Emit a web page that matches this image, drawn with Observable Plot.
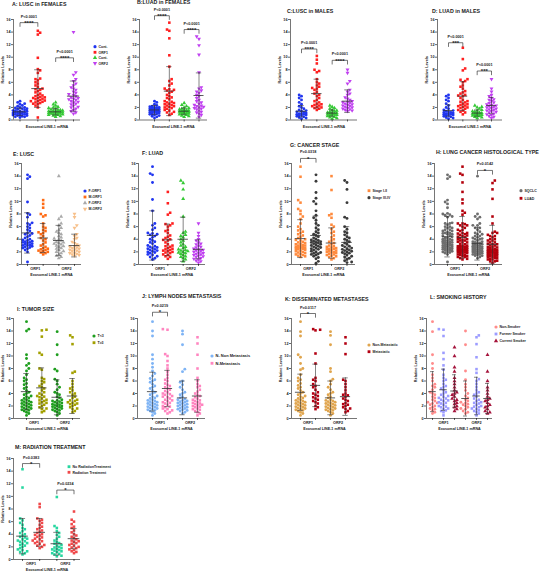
<!DOCTYPE html>
<html><head><meta charset="utf-8">
<script src="https://cdn.jsdelivr.net/npm/d3@7"></script>
<script src="https://cdn.jsdelivr.net/npm/@observablehq/plot@0.6"></script>
<style>
html,body{margin:0;padding:0;background:#fff}
#root{position:relative;width:546px;height:574px;overflow:hidden;background:#fff}
#root svg{position:absolute;overflow:visible}
</style></head><body><div id="root"></div>
<script>
// ---------- DATA (relative levels) ----------
// A: LUSC females
const aCont1 = [3.0,2.8,2.6,2.5,2.3,2.2,2.0,2.0,1.9,1.8,1.8,1.7,1.6,1.5,1.5,1.4,1.4,1.3,1.3,1.2,1.2,1.1,1.1,1.0,1.0,1.0,0.9,0.9,0.8,0.8,0.7,0.7,0.6,0.5,0.5,0.4];
const aOrf1 = [14.2,13.9,13.6,9.9,8.1,7.9,7.5,6.6,6.5,6.3,6.0,5.8,5.5,5.3,5.0,4.9,4.8,4.6,4.4,4.2,4.0,3.9,3.8,3.7,3.6,3.5,3.5,3.4,3.3,3.2,3.1,3.0,3.0,2.9,2.8,2.7,2.6,2.5,2.3,2.0,0.4];
const aCont2 = [2.8,2.5,2.3,2.1,2.0,1.9,1.8,1.7,1.6,1.6,1.5,1.5,1.4,1.4,1.3,1.3,1.3,1.2,1.2,1.2,1.1,1.1,1.0,1.0,1.0,0.9,0.9,0.8,0.8,0.7,0.6,0.5];
const aOrf2 = [14.0,7.6,7.2,6.5,6.2,5.8,5.5,5.2,5.0,4.8,4.5,4.3,4.1,4.0,3.8,3.6,3.5,3.4,3.3,3.2,3.0,2.9,2.8,2.6,2.5,2.3,2.1,2.0,1.8,1.6,1.4,1.2,1.0];
const aMean = [1.3,5.0,1.3,3.8], aSD = [0.6,3.0,0.5,2.4];
// B: LUAD females
const bCont1 = [3.0,2.8,2.5,2.3,2.2,2.1,2.0,2.0,1.9,1.9,1.8,1.8,1.7,1.7,1.6,1.6,1.5,1.5,1.4,1.4,1.3,1.3,1.2,1.2,1.1,1.0,1.0,0.9,0.8,0.7,0.6,0.5,0.3];
const bOrf1 = [15.5,14.4,14.2,13.0,10.3,8.5,6.5,6.2,5.8,5.5,5.0,4.9,4.8,4.7,4.5,4.3,4.0,3.8,3.6,3.5,3.3,3.0,2.9,2.8,2.7,2.6,2.5,2.4,2.3,2.2,2.1,2.0,1.9,1.8,1.6,1.5,1.3,1.2,1.0,0.8];
const bCont2 = [2.7,2.4,2.2,2.0,1.9,1.8,1.7,1.6,1.6,1.5,1.5,1.4,1.4,1.4,1.3,1.3,1.2,1.2,1.1,1.1,1.0,1.0,0.9,0.8,0.7,0.6,0.5];
const bOrf2 = [13.3,12.9,11.9,10.4,7.6,5.2,5.0,4.7,4.5,4.3,4.0,3.8,3.5,3.2,3.0,2.8,2.6,2.4,2.3,2.2,2.1,2.0,1.9,1.8,1.7,1.5,1.3,1.2,1.0,0.8,0.5];
const bMean = [1.6,4.6,1.4,3.9], bSD = [0.7,3.9,0.5,3.6];
// C: LUSC males
const cCont1 = [4.0,3.8,3.5,3.2,2.8,2.5,2.2,2.0,1.8,1.6,1.5,1.4,1.3,1.2,1.1,1.0,1.0,0.9,0.9,0.8,0.8,0.7,0.6,0.5,0.4,0.3,0.2];
const cOrf1 = [10.2,9.6,9.0,8.0,7.8,7.6,6.5,6.0,5.8,5.5,5.3,5.1,5.0,4.8,4.5,4.2,4.0,3.8,3.5,3.2,3.0,2.8,2.6,2.5,2.4,2.3,2.2,2.1,2.0,1.9,1.8,1.6];
const cCont2 = [2.3,2.1,1.9,1.8,1.6,1.5,1.4,1.3,1.2,1.2,1.1,1.1,1.0,1.0,0.9,0.9,0.8,0.8,0.7,0.6,0.5,0.4,0.3,0.2];
const cOrf2 = [8.0,7.5,6.2,5.8,4.8,4.5,4.2,4.0,3.6,3.4,3.2,3.0,2.9,2.8,2.7,2.6,2.5,2.4,2.3,2.2,2.1,2.0,1.9,1.8,1.7,1.6,1.5,1.4];
const cMean = [1.4,4.2,1.1,3.0], cSD = [0.9,2.3,0.5,1.8];
// D: LUAD males
const dCont1 = [4.0,3.8,3.5,3.2,3.0,2.6,2.3,2.0,1.8,1.6,1.5,1.4,1.3,1.2,1.2,1.1,1.0,1.0,0.9,0.9,0.8,0.8,0.7,0.6,0.5,0.4,0.3,0.2];
const dOrf1 = [11.5,9.7,8.2,7.9,6.5,6.4,6.2,6.0,5.5,5.3,5.0,4.6,4.4,4.2,4.0,3.9,3.8,3.5,3.2,3.0,2.9,2.8,2.6,2.5,2.4,2.3,2.2,2.1,2.0,1.9,1.8,1.6,1.5,1.3,1.2,0.9];
const dCont2 = [2.3,2.1,2.0,1.8,1.6,1.5,1.4,1.3,1.2,1.1,1.1,1.0,1.0,0.9,0.9,0.8,0.8,0.7,0.7,0.6,0.5,0.4,0.3];
const dOrf2 = [6.5,5.0,4.5,4.0,3.8,3.5,3.3,3.2,3.0,2.8,2.7,2.5,2.4,2.3,2.2,2.1,2.0,1.9,1.8,1.7,1.6,1.5,1.4,1.3,1.2,1.0,0.9,0.8,0.6,0.5,0.3];
const dMean = [1.5,3.8,1.1,2.3], dSD = [0.9,2.3,0.5,1.3];
// E, F (sex split) and H (histology) re-use the patient values above
const eMean = [5.0,4.2,3.8,3.0], eSD = [3.2,2.3,2.4,1.8];
const fMean = [4.6,3.9,4.0,2.4], fSD = [3.9,2.5,3.5,1.5];
const hMean = [4.4,4.3,3.3,3.2], hSD = [3.2,3.3,2.6,3.0];
// G: cancer stage
const gOrf1I = [15.5,13.9,10.2,9.8,8.8,8.5,8.0,7.6,7.2,6.5,6.0,5.6,5.4,5.2,5.0,4.8,4.6,4.4,4.2,4.0,3.9,3.8,3.6,3.5,3.4,3.3,3.2,3.1,3.0,3.0,2.9,2.8,2.8,2.7,2.6,2.6,2.5,2.5,2.4,2.3,2.2,2.1,2.0,1.9,1.8,1.7,1.6,1.5,1.4,1.3,1.2];
const gOrf1III = [14.2,13.2,11.4,10.5,10.0,9.6,8.5,7.8,7.4,7.0,6.5,6.2,5.8,5.5,5.2,5.0,4.8,4.6,4.4,4.2,4.0,3.9,3.8,3.7,3.6,3.5,3.5,3.4,3.3,3.2,3.1,3.0,2.9,2.8,2.7,2.6,2.5,2.4,2.3,2.1,2.0,1.9,1.8,1.7,1.6,1.5,1.3,1.1,0.9,0.5,0.2];
const gOrf2I = [14.0,11.8,8.0,7.8,7.4,6.3,6.0,5.6,5.2,5.0,4.6,4.3,4.0,3.8,3.6,3.4,3.2,3.0,2.9,2.8,2.7,2.6,2.5,2.5,2.4,2.3,2.2,2.1,2.0,2.0,1.9,1.8,1.7,1.6,1.5,1.4,1.3,1.2,1.0,0.8];
const gOrf2III = [13.3,13.0,11.9,9.8,7.5,7.3,6.0,5.6,5.2,5.0,4.7,4.4,4.2,4.0,3.8,3.6,3.4,3.2,3.0,2.9,2.8,2.6,2.5,2.4,2.3,2.2,2.1,2.0,1.9,1.8,1.7,1.5,1.3,1.2,1.0,0.8,0.6,0.4,0.3];
const gMean = [4.1,4.6,3.4,3.5], gSD = [3.0,3.1,2.4,2.5];
// I: tumor size
const iOrf1S = [15.5,14.3,14.0,10.2,9.6,8.8,8.5,8.0,7.6,7.0,6.5,6.2,6.0,5.6,5.4,5.0,4.8,4.5,4.2,4.0,3.8,3.6,3.5,3.3,3.2,3.0,2.9,2.8,2.7,2.6,2.5,2.4,2.3,2.2,2.1,2.0,1.9,1.8,1.7,1.6,1.5,1.4,1.3,1.2,1.0,0.8,0.5];
const iOrf1L = [14.2,14.1,13.1,10.5,10.2,8.0,7.8,6.5,6.3,6.0,5.8,5.5,5.2,5.0,4.8,4.5,4.2,4.0,3.8,3.6,3.5,3.4,3.2,3.0,2.9,2.8,2.6,2.5,2.4,2.2,2.0,1.8,1.6,1.5,1.2,1.0];
const iOrf2S = [13.9,11.8,10.2,7.9,7.6,6.3,6.0,5.5,5.0,4.6,4.2,4.0,3.8,3.5,3.3,3.0,2.9,2.8,2.7,2.6,2.5,2.4,2.3,2.2,2.1,2.0,2.0,1.9,1.8,1.7,1.6,1.5,1.4,1.3,1.2,1.0,0.8,0.5];
const iOrf2L = [13.3,13.0,11.9,7.5,7.3,6.0,5.5,5.0,4.8,4.5,4.2,4.0,3.8,3.5,3.3,3.0,2.9,2.8,2.6,2.5,2.4,2.3,2.2,2.0,1.8,1.6,1.5,1.2,1.0];
const iMean = [4.3,4.9,3.4,3.6], iSD = [2.9,3.2,2.8,2.8];
// J: lymph nodes
const jOrf1N = [15.5,14.0,13.2,10.2,9.5,8.8,8.2,7.6,7.2,6.8,6.4,6.2,6.0,5.8,5.5,5.2,5.0,4.8,4.5,4.2,4.0,3.8,3.6,3.5,3.3,3.2,3.0,2.9,2.8,2.7,2.6,2.5,2.4,2.3,2.2,2.1,2.0,1.9,1.8,1.7,1.6,1.5,1.4,1.3,1.2,1.0,0.8,0.5];
const jOrf1M = [14.3,14.2,10.3,10.0,9.2,8.5,8.0,7.5,7.0,6.5,6.2,6.0,5.6,5.4,5.2,5.0,4.8,4.6,4.4,4.2,4.0,3.9,3.8,3.6,3.5,3.4,3.2,3.0,2.9,2.8,2.6,2.5,2.4,2.2,2.0,1.9,1.8,1.6,1.5,1.3,1.2,1.0,0.8];
const jOrf2N = [14.0,13.5,11.8,7.9,7.5,6.0,5.8,5.4,5.0,4.6,4.2,4.0,3.8,3.5,3.3,3.1,3.0,2.9,2.8,2.7,2.6,2.5,2.4,2.3,2.2,2.1,2.0,1.9,1.8,1.7,1.6,1.5,1.4,1.3,1.2,1.0,0.8];
const jOrf2M = [13.0,12.0,10.2,8.0,6.5,6.0,5.5,5.2,5.0,4.6,4.3,4.0,3.8,3.6,3.4,3.2,3.0,2.9,2.8,2.6,2.5,2.4,2.3,2.2,2.1,2.0,1.9,1.8,1.6,1.5,1.4,1.2,1.0,0.8,0.5];
const jMean = [4.3,4.8,3.3,3.6], jSD = [3.1,2.9,2.7,2.6];
// K: disseminated metastases
const kOrf1N = [15.5,13.9,13.2,10.2,9.8,8.8,8.0,7.8,7.0,6.5,6.2,6.0,5.6,5.3,5.0,4.8,4.5,4.2,4.0,3.8,3.6,3.5,3.3,3.2,3.0,2.9,2.8,2.7,2.6,2.5,2.4,2.3,2.2,2.1,2.0,1.9,1.8,1.7,1.6,1.5,1.4,1.3,1.2,1.0,0.8,0.5];
const kOrf1M = [14.3,14.2,14.1,10.4,8.8,6.5,6.2,6.0,5.5,5.2,5.0,4.6,4.2,4.0,3.8,3.6,3.4,3.2,3.0,2.8,2.6,2.4,2.0,1.8,1.5];
const kOrf2N = [13.9,13.3,11.8,8.0,7.5,6.3,6.0,5.5,5.0,4.6,4.2,4.0,3.8,3.5,3.3,3.0,2.9,2.8,2.7,2.6,2.5,2.4,2.3,2.2,2.1,2.0,1.9,1.8,1.7,1.6,1.5,1.4,1.3,1.2,1.0,0.8,0.5];
const kOrf2M = [13.0,12.0,10.3,6.2,6.0,5.5,5.0,4.5,4.0,3.8,3.7,3.5,3.2,3.0,2.8,2.5,2.3,2.2,2.0,1.8,1.6,1.5,1.2,1.0];
const kMean = [4.2,5.3,3.3,3.5], kSD = [2.9,3.4,2.7,3.0];
// L: smoking history
const lOrf1Non = [15.5,13.9,10.2,8.8,8.0,7.0,6.5,6.0,5.5,5.2,5.0,4.6,4.2,4.0,3.8,3.5,3.3,3.0,2.8,2.6,2.5,2.4,2.2,2.0,1.8,1.6,1.5,1.3,1.0,0.8];
const lOrf1For = [14.3,14.2,13.2,10.5,9.5,8.5,7.8,7.0,6.5,6.2,6.0,5.5,5.2,5.0,4.8,4.5,4.2,4.0,3.8,3.6,3.5,3.3,3.2,3.0,2.9,2.8,2.6,2.5,2.4,2.2,2.0,1.9,1.8,1.6,1.5,1.3,1.2,1.0,0.5];
const lOrf1Cur = [11.4,10.0,8.2,7.5,6.5,6.0,5.5,5.0,4.5,4.2,4.0,3.8,3.5,3.2,3.0,2.8,2.5,2.3,2.0,1.8,1.5,1.2];
const lOrf2Non = [14.0,11.8,7.6,6.2,5.5,5.0,4.5,4.0,3.6,3.3,3.0,2.8,2.6,2.5,2.3,2.2,2.0,1.8,1.6,1.5,1.2,1.0,0.8];
const lOrf2For = [13.3,13.0,11.9,9.8,7.9,7.3,6.3,6.0,5.5,5.0,4.5,4.2,4.0,3.8,3.5,3.2,3.0,2.8,2.6,2.5,2.4,2.2,2.0,1.9,1.8,1.6,1.5,1.3,1.2,1.0,0.8,0.5];
const lOrf2Cur = [10.2,7.5,6.0,5.0,4.5,4.0,3.5,3.2,3.0,2.8,2.5,2.2,2.0,1.8,1.5,1.2,1.0,0.8];
const lMean = [4.3,4.6,4.4,3.2,3.6,3.2], lSD = [3.2,3.3,2.6,2.8,3.0,2.4];
// M: radiation treatment
const mOrf1No = [14.3,11.4,6.5,6.2,5.8,5.5,5.0,4.8,4.5,4.2,4.0,3.8,3.6,3.5,3.3,3.2,3.0,2.9,2.8,2.6,2.5,2.3,2.2,2.0,1.8,1.6,1.5,1.3,1.2,1.0,0.8];
const mOrf1Rt = [8.8,8.3,6.5,6.3,6.1,5.8,5.5,5.2,5.0,4.8,4.6,4.4,4.2,4.0,3.9,3.8,3.6,3.5,3.3,3.2,3.0,2.9,2.8,2.6,2.5,2.3,2.2,2.0,1.8];
const mOrf2No = [9.9,5.3,5.0,4.5,4.2,3.9,3.6,3.3,3.0,2.8,2.6,2.5,2.3,2.2,2.0,1.9,1.8,1.7,1.6,1.5,1.4,1.3,1.2,1.0,0.9,0.8,0.6,0.5];
const mOrf2Rt = [7.6,6.3,6.0,5.6,5.2,5.0,4.6,4.3,4.0,3.8,3.6,3.4,3.2,3.0,2.9,2.8,2.6,2.5,2.3,2.2,2.0,1.9,1.8,1.6,1.5,1.3,1.2,1.0];
const mMean = [3.7,4.3,2.5,3.3], mSD = [2.8,2.2,1.8,1.6];

const orfLabels = ["ORF1","ORF2"];
const yTicks = [0,2,4,6,8,10,12,14,16];
const xTitle = "Exosomal LINE-1 mRNA";

// ---------- helpers ----------
const FONT = "Liberation Sans, Arial, Helvetica, sans-serif";
const triDown = {draw(ctx, size) {
  const y = -Math.sqrt(size / (Math.sqrt(3) * 3));
  ctx.moveTo(0, -y * 2); ctx.lineTo(-Math.sqrt(3) * y, y); ctx.lineTo(Math.sqrt(3) * y, y); ctx.closePath();
}};
const SYM = {circle: "circle", square: "square", triangle: "triangle", tridown: triDown};
const D3SYM = {circle: d3.symbolCircle, square: d3.symbolSquare, triangle: d3.symbolTriangle, tridown: triDown};

function swarm(vals, py, r, maxHalf) {
  const order = d3.range(vals.length).sort((a, b) => vals[a] - vals[b]);
  const placed = [], out = new Array(vals.length);
  const step = r * 1.6, cands = [0];
  for (let k = 1; k * step <= maxHalf; k++) cands.push(k * step, -k * step);
  order.forEach((i, n) => {
    const y = vals[i] * py, sg = n % 2 ? 1 : -1;
    let best = 0, bestD = -1;
    for (const c0 of cands) {
      const c = c0 * sg;
      let dmin = Infinity;
      for (const p of placed) { const d = Math.hypot(p[0] - c, p[1] - y); if (d < dmin) dmin = d; }
      if (dmin >= 2 * r * 0.9) { best = c; break; }
      if (dmin > bestD) { bestD = dmin; best = c; }
    }
    placed.push([best, y]); out[i] = best;
  });
  return out;
}

const BLUE = "#2035f0", RED = "#ff1f1f", GREEN = "#35c935", PURPLE = "#c040f0";

const panels = [
 {title: "A: LUSC in FEMALES", tx: 12, ty: 6, x0: 13, x1: 80, c1: 19.5, cn: 73, yT: 19, yB: 119.5,
  groups: [aCont1, aOrf1, aCont2, aOrf2], means: aMean, sds: aSD,
  colors: [BLUE, RED, GREEN, PURPLE], symbols: ["circle","square","triangle","tridown"],
  brackets: [{a:1,b:2,lv:15.5,p:"P<0.0001",s:"****"},{a:3,b:4,lv:9.9,p:"P<0.0001",s:"****"}],
  legend: {x: 95, ys: [46.7,52.3,57.7,63.3], labels: ["Cont.","ORF1","Cont.","ORF2"]}},
 {title: "B:LUAD in FEMALES", tx: 137, ty: 4, x0: 139, x1: 207, c1: 154, cn: 198.5, yT: 19, yB: 119.5,
  groups: [bCont1, bOrf1, bCont2, bOrf2], means: bMean, sds: bSD,
  colors: [BLUE, RED, GREEN, PURPLE], symbols: ["circle","square","triangle","tridown"],
  brackets: [{a:1,b:2,lv:16.6,p:"P<0.0001",s:"****"},{a:3,b:4,lv:14.4,p:"P<0.0001",s:"****"}]},
 {title: "C:LUSC in MALES", tx: 287, ty: 13, x0: 290, x1: 357, c1: 301, cn: 347, yT: 19, yB: 119.5,
  groups: [cCont1, cOrf1, cCont2, cOrf2], means: cMean, sds: cSD,
  colors: [BLUE, RED, GREEN, PURPLE], symbols: ["circle","square","triangle","tridown"],
  brackets: [{a:1,b:2,lv:11.3,p:"P<0.0001",s:"****"},{a:3,b:4,lv:9.5,p:"P<0.0001",s:"****"}]},
 {title: "D: LUAD in MALES", tx: 432, ty: 12.7, x0: 437, x1: 502, c1: 448, cn: 491, yT: 19, yB: 119.5,
  groups: [dCont1, dOrf1, dCont2, dOrf2], means: dMean, sds: dSD,
  colors: [BLUE, RED, GREEN, PURPLE], symbols: ["circle","square","triangle","tridown"],
  brackets: [{a:1,b:2,lv:12.3,p:"P<0.0001",s:"***"},{a:3,b:4,lv:7.8,p:"P<0.0001",s:"***"}]},
 {title: "E: LUSC", tx: 13, ty: 156, x0: 21, x1: 81, c1: 27, cn: 74, yT: 163, yB: 264, orf: [1.5,3.5],
  groups: [aOrf1, cOrf1, aOrf2, cOrf2], means: eMean, sds: eSD,
  colors: [BLUE, "#ff6a13", "#aaaaaa", "#f7c08a"], symbols: ["circle","square","triangle","tridown"],
  legend: {x: 85, ys: [191,197,203,209], labels: ["F-ORF1","M-ORF1","F-ORF2","M-ORF2"]}},
 {title: "F: LUAD", tx: 142, ty: 154.5, x0: 138, x1: 205, c1: 152, cn: 198, yT: 163, yB: 264, orf: [1.5,3.5],
  groups: [bOrf1, dOrf1, bOrf2, dOrf2], means: fMean, sds: fSD,
  colors: [BLUE, RED, GREEN, PURPLE], symbols: ["circle","square","triangle","tridown"]},
 {title: "G: CANCER STAGE", tx: 290, ty: 146.5, x0: 291, x1: 355, c1: 300, cn: 346.5, yT: 163, yB: 264, orf: [1.5,3.5],
  groups: [gOrf1I, gOrf1III, gOrf2I, gOrf2III], means: gMean, sds: gSD,
  colors: ["#ff8a3d","#3a3a3a","#ff8a3d","#3a3a3a"], symbols: ["square","circle","square","circle"],
  brackets: [{a:1,b:2,lv:16.8,p:"P=0.0318",s:"*"}],
  legend: {x: 369, ys: [190.7,197.7], labels: ["Stage I-II","Stage III-IV"]}},
 {title: "H: LUNG CANCER HISTOLOGICAL TYPE", tx: 436, ty: 153.5, x0: 434, x1: 502, c1: 447, cn: 492, yT: 163, yB: 264, orf: [1.5,3.5],
  groups: [[...aOrf1, ...cOrf1], [...bOrf1, ...dOrf1], [...aOrf2, ...cOrf2], [...bOrf2, ...dOrf2]], means: hMean, sds: hSD,
  colors: ["#6e6e6e","#b3000c","#6e6e6e","#b3000c"], symbols: ["circle","square","circle","square"],
  brackets: [{a:3,b:4,lv:14.9,p:"P=0.0142",s:"*"}],
  legend: {x: 521, ys: [190.7,198.3], labels: ["SQCLC","LUAD"]}},
 {title: "I: TUMOR SIZE", tx: 17, ty: 310.5, x0: 13, x1: 80, c1: 26, cn: 72, yT: 318, yB: 418, orf: [1.5,3.5],
  groups: [iOrf1S, iOrf1L, iOrf2S, iOrf2L], means: iMean, sds: iSD,
  colors: ["#1e9e1e","#a3a000","#1e9e1e","#a3a000"], symbols: ["circle","square","circle","square"],
  legend: {x: 94, ys: [336,342.7], labels: ["T<3","T≥3"]}},
 {title: "J: LYMPH NODES METASTASIS", tx: 142, ty: 298, x0: 137, x1: 205, c1: 152, cn: 197, yT: 318, yB: 418, orf: [1.5,3.5],
  groups: [jOrf1N, jOrf1M, jOrf2N, jOrf2M], means: jMean, sds: jSD,
  colors: ["#7fb4f5","#ff85c0","#7fb4f5","#ff85c0"], symbols: ["circle","square","circle","square"],
  brackets: [{a:1,b:2,lv:17.0,p:"P=0.0219",s:"*"}],
  legend: {x: 212, ys: [356,363.3], labels: ["N- Non Metastasis","N-Metastasis"], fs: 4}},
 {title: "K: DISSEMINATED METASTASES", tx: 285, ty: 301, x0: 291, x1: 357, c1: 300, cn: 345, yT: 318, yB: 418, orf: [1.5,3.5],
  groups: [kOrf1N, kOrf1M, kOrf2N, kOrf2M], means: kMean, sds: kSD,
  colors: ["#e0a54e","#b30012","#e0a54e","#b30012"], symbols: ["circle","square","circle","square"],
  brackets: [{a:1,b:2,lv:16.8,p:"P=0.0117",s:"*"}],
  legend: {x: 369, ys: [345,351.7], labels: ["Non-Metastatic","Metastatic"]}},
 {title: "L: SMOKING HISTORY", tx: 430, ty: 299, x0: 426, x1: 492, c1: 432, cn: 487, yT: 318, yB: 418, orf: [2,5],
  groups: [lOrf1Non, lOrf1For, lOrf1Cur, lOrf2Non, lOrf2For, lOrf2Cur], means: lMean, sds: lSD,
  colors: ["#ff8c8c","#9c9cff","#a5143c","#ff8c8c","#9c9cff","#a5143c"], symbols: ["circle","square","triangle","circle","square","triangle"],
  legend: {x: 496, ys: [327,334,341], labels: ["Non-Smoker","Former Smoker","Current Smoker"]}},
 {title: "M: RADIATION TREATMENT", tx: 15, ty: 449, x0: 13, x1: 80, c1: 22, cn: 73.5, yT: 458, yB: 559, orf: [1.5,3.5],
  groups: [mOrf1No, mOrf1Rt, mOrf2No, mOrf2Rt], means: mMean, sds: mSD,
  colors: ["#27d7a0","#f0484a","#27d7a0","#f0484a"], symbols: ["square","square","square","square"],
  brackets: [{a:1,b:2,lv:15.2,p:"P=0.0383",s:"*"},{a:3,b:4,lv:11.0,p:"P=0.0234",s:"*"}],
  legend: {x: 69, ys: [466.7,472.3], labels: ["No RadiationTreatment","Radiation Treatment"]}}
];

const root = document.getElementById("root");
const INK = "#1a1a1a", BAR = "#333";

panels.forEach(c => {
  const n = c.groups.length;
  const s = (c.cn - c.c1) / (n - 1);
  const xd = [1 - (c.c1 - c.x0) / s, n + (c.x1 - c.cn) / s];
  const mL = 16, mR = 3, mT = 22, mB = 16;
  const pw = c.x1 - c.x0, ph = c.yB - c.yT, py = ph / 16, R = 1.45;
  const marks = [];
  c.groups.forEach((vals, g) => {
    const offs = swarm(vals, py, R, s * 0.44);
    const pts = vals.map((v, i) => ({x: g + 1 + offs[i] / s, v}));
    marks.push(Plot.dot(pts, {x: "x", y: "v", r: R, fill: c.colors[g], symbol: SYM[c.symbols[g]]}));
  });
  const st = c.means.map((m, g) => ({x: g + 1, m, lo: Math.max(0, m - c.sds[g]), hi: m + c.sds[g]}));
  marks.push(
    Plot.ruleX(st, {x: "x", y1: "lo", y2: "hi", stroke: BAR, strokeWidth: 0.6}),
    Plot.ruleY(st, {y: "hi", x1: d => d.x - 0.18, x2: d => d.x + 0.18, stroke: BAR, strokeWidth: 0.6}),
    Plot.ruleY(st, {y: "lo", x1: d => d.x - 0.18, x2: d => d.x + 0.18, stroke: BAR, strokeWidth: 0.6}),
    Plot.ruleY(st, {y: "m", x1: d => d.x - 0.34, x2: d => d.x + 0.34, stroke: BAR, strokeWidth: 0.8})
  );
  // axes
  marks.push(
    Plot.ruleX([xd[0]], {stroke: INK, strokeWidth: 0.6}),
    Plot.ruleY([0], {stroke: INK, strokeWidth: 0.6}),
    Plot.axisY({ticks: yTicks, tickSize: 2, tickPadding: 1, fontSize: 3.8, fontWeight: "bold", strokeWidth: 0.6,
      label: "Relative Levels", labelAnchor: "center", labelArrow: "none", labelOffset: 12.5, fill: INK}),
    Plot.axisX({ticks: d3.range(1, n + 1), tickSize: 2, tickFormat: () => "", strokeWidth: 0.6, label: null})
  );
  if (c.orf) {
    const lab = new Map(c.orf.map((p, i) => [p, orfLabels[i]]));
    marks.push(Plot.axisX({ticks: c.orf, tickSize: 0, tickPadding: 2.6, tickFormat: d => lab.get(d), fontSize: 3.8, fontWeight: "bold", label: null, fill: INK}));
  }
  marks.push(Plot.text([xTitle], {frameAnchor: "bottom", text: d => d, dy: c.orf ? 11.5 : 8, fontSize: 3.7, fontWeight: "bold", fill: INK}));
  // significance brackets
  if (c.brackets) {
    const bp = c.brackets.flatMap((b, k) => [
      {k, x: b.a, y: b.lv - 0.6}, {k, x: b.a, y: b.lv}, {k, x: b.b, y: b.lv}, {k, x: b.b, y: b.lv - 0.6}]);
    marks.push(
      Plot.line(bp, {x: "x", y: "y", z: "k", stroke: INK, strokeWidth: 0.6}),
      Plot.text(c.brackets, {x: d => (d.a + d.b) / 2, y: "lv", text: "p", dy: -5, lineAnchor: "bottom", fontSize: 3.8, fontWeight: "bold", fill: INK}),
      Plot.text(c.brackets, {x: d => (d.a + d.b) / 2, y: "lv", text: "s", dy: 2.2, lineAnchor: "bottom", fontSize: 6, fontWeight: "bold", fill: INK})
    );
  }
  const svg = Plot.plot({
    width: pw + mL + mR, height: ph + mT + mB,
    marginLeft: mL, marginRight: mR, marginTop: mT, marginBottom: mB,
    x: {domain: xd}, y: {domain: [0, 16]},
    style: {fontFamily: FONT, background: "transparent", overflow: "visible", maxWidth: "none"},
    marks
  });
  svg.style.position = "absolute";
  svg.style.left = (c.x0 - mL) + "px";
  svg.style.top = (c.yT - mT) + "px";
  root.appendChild(svg);
});

// titles and legends
const ov = d3.select(root).append("svg").attr("width", 546).attr("height", 574)
  .style("left", "0px").style("top", "0px").attr("font-family", FONT);
panels.forEach(c => {
  ov.append("text").attr("x", c.tx).attr("y", c.ty).attr("font-size", 5.3).attr("font-weight", "bold")
    .attr("fill", INK).text(c.title);
  if (c.legend) c.legend.labels.forEach((lab, i) => {
    const y = c.legend.ys[i];
    ov.append("path").attr("transform", `translate(${c.legend.x},${y})`)
      .attr("d", d3.symbol(D3SYM[c.symbols[i]], 8)()).attr("fill", c.colors[i]);
    ov.append("text").attr("x", c.legend.x + 3.5).attr("y", y).attr("dy", "0.35em")
      .attr("font-size", c.legend.fs || 3.5).attr("font-weight", "bold").attr("fill", INK).text(lab);
  });
});
</script></body></html>
